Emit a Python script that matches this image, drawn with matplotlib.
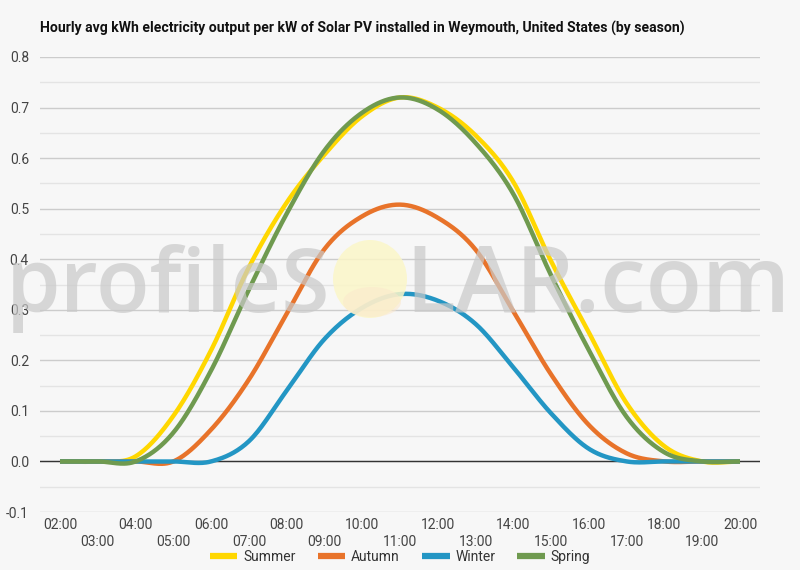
import numpy as np
import matplotlib
matplotlib.use("Agg")
import matplotlib.pyplot as plt
from matplotlib.lines import Line2D
from matplotlib.patches import Ellipse

# ---------------- data ----------------
hours = list(range(2, 21))
hour_labels = [f"{h:02d}:00" for h in hours]
summer = [0.0, 0.0, 0.01, 0.09, 0.22, 0.384, 0.512, 0.607, 0.683, 0.72,
          0.70, 0.645, 0.553, 0.396, 0.255, 0.115, 0.03, 0.0, 0.0]
autumn = [0.0, 0.0, 0.0, 0.0, 0.063, 0.162, 0.292, 0.42, 0.485, 0.508,
          0.482, 0.419, 0.297, 0.172, 0.072, 0.016, 0.0, 0.0, 0.0]
winter = [0.0, 0.0, 0.0, 0.0, 0.0, 0.04, 0.14, 0.242, 0.304, 0.331,
          0.318, 0.272, 0.186, 0.095, 0.025, 0.0, 0.0, 0.0, 0.0]
spring = [0.0, 0.0, 0.0, 0.057, 0.18, 0.34, 0.49, 0.615, 0.69, 0.72,
          0.696, 0.63, 0.529, 0.368, 0.22, 0.088, 0.018, 0.0, 0.0]
series_names = ["Summer", "Autumn", "Winter", "Spring"]
series_values = [summer, autumn, winter, spring]
colors = ["#FFD700", "#E8732A", "#2396C4", "#6F9A4F"]
title = "Hourly avg kWh electricity output per kW of Solar PV installed in Weymouth, United States (by season)"


def smooth(x, y, n=30):
    """Catmull-Rom style cubic Hermite rendering of a line through the points."""
    x = np.asarray(x, float)
    y = np.asarray(y, float)
    m = np.zeros_like(y)
    m[1:-1] = (y[2:] - y[:-2]) / (x[2:] - x[:-2])
    m[0] = (y[1] - y[0]) / (x[1] - x[0])
    m[-1] = (y[-1] - y[-2]) / (x[-1] - x[-2])
    xs, ys = [], []
    for i in range(len(x) - 1):
        h = x[i + 1] - x[i]
        t = np.linspace(0, 1, n, endpoint=False)
        h00 = 2 * t**3 - 3 * t**2 + 1
        h10 = t**3 - 2 * t**2 + t
        h01 = -2 * t**3 + 3 * t**2
        h11 = t**3 - t**2
        xs.append(x[i] + t * h)
        ys.append(h00 * y[i] + h10 * h * m[i] + h01 * y[i + 1] + h11 * h * m[i + 1])
    xs.append([x[-1]])
    ys.append([y[-1]])
    return np.concatenate(xs), np.concatenate(ys)


plt.rcParams['font.family'] = ['Roboto', 'DejaVu Sans']
bg = "#F7F7F7"
W, H = 800, 570
fig = plt.figure(figsize=(8, 5.7), dpi=100, facecolor=bg)
ax = fig.add_axes([0.05, 1 - 512 / H, 0.90, (512 - 57) / H])
ax.set_facecolor(bg)

# watermark (fit text to target pixel spans)
renderer = fig.canvas.get_renderer()


def fitted_text(x0, x1, base_y, s):
    t = fig.text(x0 / W, 1 - base_y / H, s, fontsize=60, family="Open Sans",
                 fontweight=600, color="#C9C9C9", alpha=0.7, ha="left",
                 va="baseline", zorder=0)
    w = t.get_window_extent(renderer).width
    t.set_fontsize(60 * (x1 - x0) / w)
    return t


fitted_text(6, 330, 312, "profileS")
fitted_text(405, 790, 312, "LAR.com")
fig.patches.append(Ellipse((370 / W, 1 - 279 / H), 74 / W, 78 / H,
                           transform=fig.transFigure, facecolor="#FBF6C8",
                           edgecolor="none", alpha=0.85, zorder=0))
fig.patches.append(Ellipse((372 / W, 1 - 302 / H), 58 / W, 30 / H,
                           transform=fig.transFigure, facecolor="#FBE8CC",
                           edgecolor="none", alpha=0.55, zorder=0))

ax.set_xlim(2 - 20 / 37.78, 20 + 20 / 37.78)
ax.set_ylim(-0.1, 0.8)

yt = np.round(np.arange(-0.1, 0.81, 0.1), 2)
ax.set_yticks(yt)
ax.set_yticklabels([f"{v:.1f}" for v in yt])
ax.set_yticks(np.round(np.arange(-0.05, 0.8, 0.1), 3), minor=True)
ax.grid(axis="y", which="major", color="#CCCCCC", lw=1)
ax.grid(axis="y", which="minor", color="#E4E4E4", lw=1)
ax.axhline(0, color="#333333", lw=1, zorder=2)

even = [h for h in hours if h % 2 == 0]
odd = [h for h in hours if h % 2 == 1]
ax.set_xticks(even)
ax.set_xticklabels([hour_labels[hours.index(h)] for h in even])
ax.set_xticks(odd, minor=True)
ax.set_xticklabels([hour_labels[hours.index(h)] for h in odd], minor=True)
ax.tick_params(axis="x", which="major", length=0, pad=4, labelsize=10, labelcolor="#444444")
ax.tick_params(axis="x", which="minor", length=0, pad=16.5, labelsize=10, labelcolor="#444444")
ax.tick_params(axis="y", which="both", length=0, pad=8, labelsize=10, labelcolor="#444444")
for s in ax.spines.values():
    s.set_visible(False)

for name, vals, c in zip(series_names, series_values, colors):
    xs, ys = smooth(hours, vals)
    ax.plot(xs, ys, color=c, lw=3.2, solid_capstyle="butt", zorder=3)

handles = [Line2D([], [], color=c, lw=4.5, solid_capstyle="butt") for c in colors]
fig.legend(handles, series_names, loc="center", bbox_to_anchor=(400 / W, 1 - 557 / H),
           ncol=4, frameon=False, fontsize=10, handlelength=2.0, handletextpad=0.4,
           columnspacing=1.6, labelcolor="#333333", borderaxespad=0, borderpad=0)

fig.text(40 / W, 1 - 28 / H, title, fontsize=10.1, fontweight="bold",
         color="#111111", ha="left", va="center")

fig.savefig("out.png", dpi=100, facecolor=bg)
